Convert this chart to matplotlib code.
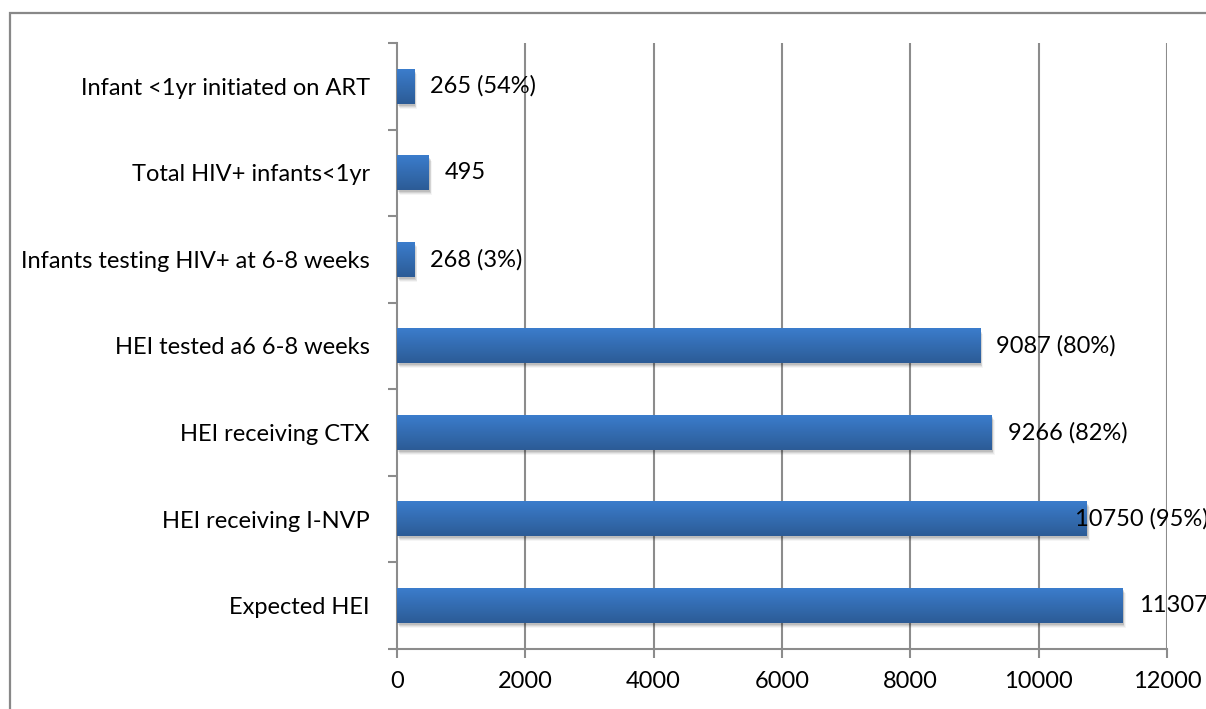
import matplotlib
matplotlib.use("Agg")
import matplotlib.pyplot as plt
import matplotlib.transforms as mtransforms
from matplotlib.patches import Rectangle
import numpy as np

plt.rcParams['font.family'] = ['Lato', 'DejaVu Sans']

categories = ["Expected HEI", "HEI receiving I-NVP", "HEI receiving CTX",
              "HEI tested a6 6-8 weeks", "Infants testing HIV+ at 6-8 weeks",
              "Total HIV+ infants<1yr", "Infant <1yr initiated on ART"]
values = [11307, 10750, 9266, 9087, 268, 495, 265]
bar_labels = ["11307", "10750 (95%)", "9266 (82%)", "9087 (80%)", "268 (3%)", "495", "265 (54%)"]
xticks = [0, 2000, 4000, 6000, 8000, 10000, 12000]

W, H = 1206, 709
fig = plt.figure(figsize=(W / 100, H / 100), dpi=100)
fig.patches.append(Rectangle((10 / W, -0.1), 1.2, 1 - 13 / H + 0.1, transform=fig.transFigure,
                             fill=False, edgecolor='#888888', linewidth=1.6, zorder=0))

ax = fig.add_axes([397 / W, 1 - 649 / H, 770 / W, 606 / H])
ax.set_xlim(0, 12000)
ax.set_ylim(-0.5, len(categories) - 0.5)

gridc = '#8c8c8c'
for xt in xticks[1:]:
    ax.axvline(xt, color=gridc, linewidth=1.5, zorder=1)

top_col = np.array([0x3B, 0x7D, 0xCC]) / 255
bot_col = np.array([0x2C, 0x5B, 0x96]) / 255
grad = np.linspace(0, 1, 64)[:, None, None]
img = top_col * (1 - grad) + bot_col * grad

fs = 17
h = 0.4
for i, v in enumerate(values):
    # shadow
    for k, a in zip([5, 4, 3, 2], [0.04, 0.06, 0.08, 0.10]):
        tr = mtransforms.offset_copy(ax.transData, fig=fig, x=k * 0.6, y=-k, units='dots')
        ax.add_patch(Rectangle((0, i - h / 2), v, h, facecolor='black', alpha=a,
                               edgecolor='none', transform=tr, zorder=2))
    ax.imshow(img, extent=[0, v, i - h / 2, i + h / 2], aspect='auto', zorder=3,
              interpolation='bilinear')
    dx = 16 if i != 1 else -12
    ax.annotate(bar_labels[i], (v, i), xytext=(dx, 0), textcoords='offset pixels',
                ha='left', va='center', fontsize=fs, color='black', zorder=5,
                annotation_clip=False, clip_on=False)

ax.set_xlim(0, 12000)
ax.set_ylim(-0.5, len(categories) - 0.5)
ax.set_xticks(xticks)
ax.set_xticklabels([str(x) for x in xticks], fontsize=fs)
ax.set_yticks(np.arange(-0.5, len(categories) + 0.5, 1))
ax.set_yticklabels([])
ax.set_yticks(np.arange(len(categories)), minor=True)
ax.set_yticklabels(categories, minor=True, fontsize=fs)
ax.tick_params(axis='y', which='minor', length=0, pad=19.5)
ax.tick_params(axis='y', which='major', length=6.5, width=1.5, color=gridc)
ax.tick_params(axis='x', length=6.5, width=1.5, color=gridc, pad=9)

for s in ['top', 'right']:
    ax.spines[s].set_visible(False)
for s in ['left', 'bottom']:
    ax.spines[s].set_color(gridc)
    ax.spines[s].set_linewidth(1.5)

fig.savefig("out.png", dpi=100)
